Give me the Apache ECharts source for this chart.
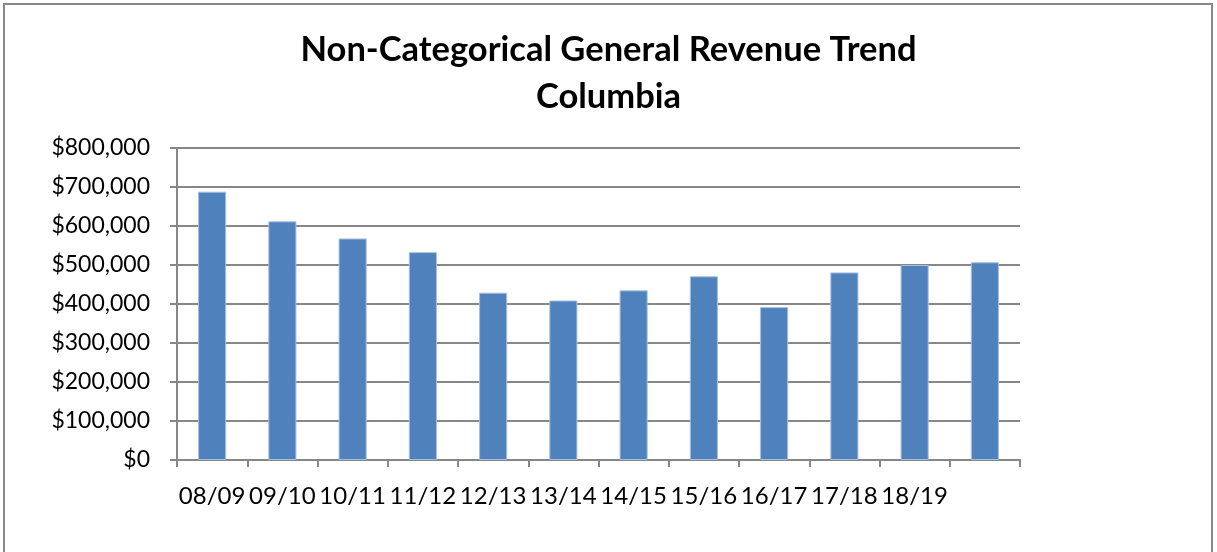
<!DOCTYPE html>
<html>
<head>
<meta charset="utf-8">
<script src="https://cdn.jsdelivr.net/npm/echarts@6/dist/echarts.min.js"></script>
<style>
  html, body { margin: 0; padding: 0; background: #fff; }
  #frame { position: absolute; left: 3px; top: 3px; width: 1210px; height: 560px; border: 2px solid #898989; border-bottom: none; box-sizing: border-box; }
  #chart { width: 1217px; height: 552px; }
</style>
</head>
<body>
<div id="frame"></div>
<div id="chart"></div>
<script>
// fiscal years (last bar has no label in the original)
const years = ['08/09', '09/10', '10/11', '11/12', '12/13', '13/14', '14/15', '15/16', '16/17', '17/18', '18/19', ''];
const revenue = [688000, 612000, 568000, 533000, 429000, 409000, 435000, 471000, 392000, 481000, 500000, 507000];
const yTicks = [0, 100000, 200000, 300000, 400000, 500000, 600000, 700000, 800000];

const axisGrey = '#878787';
const font = 'Lato, "Open Sans", sans-serif';

const myChart = echarts.init(document.getElementById('chart'));

const option = {
    animation: false,
    title: {
        text: 'Non-Categorical General Revenue Trend\nColumbia',
        left: 'center',
        top: 21,
        textStyle: {
            fontFamily: font,
            fontSize: 34.5,
            fontWeight: 'bold',
            color: '#000',
            lineHeight: 47
        }
    },
    grid: {
        left: 177,
        right: 197,
        top: 148,
        bottom: 92,
        containLabel: false
    },
    xAxis: {
        type: 'category',
        data: years,
        axisLine: {lineStyle: {color: axisGrey, width: 2}},
        axisTick: {show: true, length: 7, lineStyle: {color: axisGrey, width: 2}},
        axisLabel: {
            interval: 0,
            margin: 24,
            fontFamily: font,
            fontSize: 24,
            color: '#000'
        }
    },
    yAxis: {
        type: 'value',
        min: yTicks[0],
        max: yTicks[yTicks.length - 1],
        interval: 100000,
        axisLine: {show: true, lineStyle: {color: axisGrey, width: 2}},
        axisTick: {show: true, length: 7, lineStyle: {color: axisGrey, width: 2}},
        splitLine: {lineStyle: {color: axisGrey, width: 2}},
        axisLabel: {
            margin: 27,
            fontFamily: font,
            fontSize: 23,
            color: '#000',
            formatter: v => '$' + v.toLocaleString('en-US')
        }
    },
    series: [
        {
            type: 'bar',
            data: revenue,
            barWidth: '40%',
            itemStyle: {
                color: '#4f81bd',
                borderColor: '#a7bfdf',
                borderWidth: 1
            }
        }
    ]
};

option && myChart.setOption(option);
</script>
</body>
</html>
